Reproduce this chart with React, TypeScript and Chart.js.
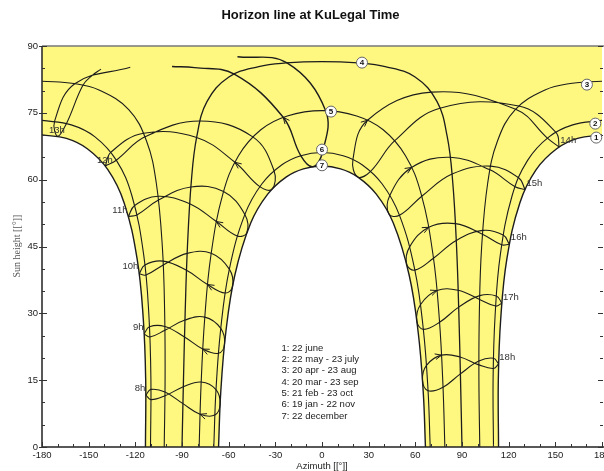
import React, { useEffect, useRef } from "react";
import { Chart, registerables } from "chart.js";

Chart.register(...registerables);

type P = [number, number]; // [azimuth °, sun height °]

// ---- Date curves (1: 22 june ... 7: 22 december) ----
const curve1Morning: P[] = [[-113.49, 0], [-113.35, 15.15], [-114.91, 28.83], [-118.85, 42.21], [-127.23, 54.83], [-137.67, 62.24], [-150.87, 66.93], [-164.31, 69.25], [-180, 70.06]];
const curve1Evening: P[] = [[113.49, 0], [113.35, 15.15], [114.91, 28.83], [118.85, 42.21], [127.23, 54.83], [137.67, 62.24], [150.87, 66.93], [164.31, 69.25], [180, 70.06]];
const curve2Morning: P[] = [[-110.24, 0], [-109.99, 15.28], [-111.24, 29.31], [-114.62, 43.12], [-122.16, 56.34], [-132.17, 64.33], [-145.93, 69.61], [-161.16, 72.3], [-180, 73.3]];
const curve2Evening: P[] = [[110.24, 0], [109.99, 15.28], [111.24, 29.31], [114.62, 43.12], [122.16, 56.34], [132.17, 64.33], [145.93, 69.61], [161.16, 72.3], [180, 73.3]];
const curve3Morning: P[] = [[-101.43, 0], [-100.87, 15.39], [-101.15, 30.09], [-102.6, 44.74], [-106.53, 59.25], [-112.81, 68.68], [-124.24, 75.73], [-143.35, 80.12], [-159.54, 81.57], [-180, 82.1]];
const curve3Evening: P[] = [[101.43, 0], [100.87, 15.39], [101.15, 30.09], [102.6, 44.74], [106.53, 59.25], [112.81, 68.68], [124.24, 75.73], [143.35, 80.12], [159.54, 81.57], [180, 82.1]];
const curve4: P[] = [[-90, 0], [-89.06, 14.97], [-87.98, 29.94], [-86.51, 44.9], [-83.96, 59.81], [-80.48, 69.7], [-73.97, 77.51], [-59.85, 83.05], [-40.64, 85.39], [-23.22, 86.19], [0, 86.5], [23.22, 86.19], [40.64, 85.39], [59.85, 83.05], [73.97, 77.51], [80.48, 69.7], [83.96, 59.81], [86.51, 44.9], [87.98, 29.94], [89.06, 14.97], [90, 0]];
const curve5: P[] = [[-78.98, 0], [-77.74, 14.0], [-75.46, 28.57], [-71.45, 42.93], [-63.72, 56.81], [-53.68, 65.38], [-39.33, 71.21], [-22.31, 74.3], [0, 75.5], [22.31, 74.3], [39.33, 71.21], [53.68, 65.38], [63.72, 56.81], [71.45, 42.93], [75.46, 28.57], [77.74, 14.0], [78.98, 0]];
const curve6: P[] = [[-69.56, 0], [-68.16, 12.76], [-65.11, 26.52], [-59.63, 39.81], [-49.7, 52.09], [-38.59, 59.08], [-25.76, 63.35], [-13.6, 65.39], [0, 66.1], [13.6, 65.39], [25.76, 63.35], [38.59, 59.08], [49.7, 52.09], [59.63, 39.81], [65.11, 26.52], [68.16, 12.76], [69.56, 0]];
const curve7: P[] = [[-66.51, 0], [-65.09, 12.28], [-61.85, 25.7], [-56.05, 38.55], [-45.83, 50.25], [-34.9, 56.75], [-22.89, 60.63], [-11.96, 62.44], [0, 63.06], [11.96, 62.44], [22.89, 60.63], [34.9, 56.75], [45.83, 50.25], [56.05, 38.55], [61.85, 25.7], [65.09, 12.28], [66.51, 0]];

// ---- Hour curves (legal time), dates: jun, jul, aug, sep, oct, nov, dec, jan, feb, mar, apr, may, jun ----
const h08: P[] = [[-113.22, 11.66], [-109.9, 10.63], [-100.93, 11.49], [-89.16, 13.52], [-77.67, 14.59], [-68.15, 12.88], [-65.51, 9.58], [-68.92, 7.16], [-78.42, 7.36], [-89.4, 9.73], [-100.91, 12.35], [-109.93, 12.93], [-113.22, 11.66]];
const h09: P[] = [[-114.34, 25.38], [-110.65, 24.69], [-100.98, 26.19], [-88.1, 28.49], [-75.34, 29.15], [-65.08, 26.63], [-62.66, 23.07], [-66.57, 21.03], [-76.65, 21.98], [-88.39, 24.7], [-101.02, 27.05], [-110.92, 26.98], [-114.34, 25.38]];
const h10: P[] = [[-117.55, 38.87], [-113.19, 38.6], [-102.06, 40.87], [-86.68, 43.45], [-71.24, 43.5], [-59.57, 39.92], [-57.48, 36.07], [-62.22, 34.55], [-73.57, 36.46], [-87.09, 39.66], [-102.17, 41.72], [-113.85, 40.84], [-117.55, 38.87]];
const h11: P[] = [[-124.48, 51.75], [-118.97, 52.08], [-105.08, 55.43], [-84.3, 58.37], [-63.27, 57.34], [-49.59, 52.18], [-48.36, 48.07], [-54.43, 47.34], [-67.93, 50.61], [-85.06, 54.6], [-105.37, 56.28], [-120.43, 54.21], [-124.48, 51.75]];
const h12: P[] = [[-139.33, 63.03], [-132.24, 64.37], [-113.81, 69.61], [-78.32, 73.16], [-44.49, 69.61], [-30.83, 62.01], [-32.15, 57.86], [-39.96, 58.43], [-55.98, 63.91], [-80.6, 69.46], [-114.74, 70.41], [-135.78, 66.13], [-139.33, 63.03]];
const h13a: P[] = [[-123.27, 85.24], [-158.92, 81.54], [-171.89, 73.13], [-169.9, 69.71], [-164.27, 72.6], [-153.71, 81.18], [-147.48, 83.47], [-142.08, 84.8]];
const h13b: P[] = [[-54.34, 87.6], [-22.52, 86.21], [2.35, 75.48], [0.29, 66.1], [-6.0, 62.9], [-13.66, 65.38], [-24.94, 74.0], [-56.4, 83.69], [-81.82, 85.14], [-96.4, 85.4]];
const h14: P[] = [[152.49, 67.3], [150.39, 70.63], [126.46, 76.52], [75.79, 76.03], [46.77, 68.75], [31.24, 61.87], [22.93, 60.62], [19.88, 64.53], [29.27, 73.34], [70.44, 79.64], [124.46, 75.82], [144.87, 69.33], [152.49, 67.3]];
const h15: P[] = [[130.57, 57.78], [126.38, 60.42], [108.45, 63.04], [83.6, 61.25], [64.15, 56.27], [49.81, 51.99], [43.0, 52.32], [43.58, 56.47], [57.58, 62.74], [82.46, 65.03], [107.97, 62.2], [124.14, 58.43], [130.57, 57.78]];
const h16: P[] = [[120.43, 45.51], [116.47, 47.57], [103.3, 48.61], [86.33, 46.34], [71.67, 42.37], [59.69, 39.7], [54.46, 40.99], [56.35, 44.91], [68.63, 49.31], [85.8, 50.13], [103.13, 47.77], [115.5, 45.38], [120.43, 45.51]];
const h17: P[] = [[115.64, 32.26], [112.07, 33.9], [101.39, 33.98], [87.86, 31.39], [75.58, 27.99], [65.15, 26.41], [60.95, 28.3], [63.28, 31.94], [73.93, 35.12], [87.53, 35.17], [101.33, 33.12], [111.63, 31.63], [115.64, 32.26]];
const h18: P[] = [[113.58, 18.63], [110.23, 19.92], [100.86, 19.28], [88.97, 16.42], [77.81, 13.42], [68.18, 12.64], [64.6, 14.97], [67.17, 18.32], [76.86, 20.62], [88.71, 20.21], [100.85, 18.43], [110.09, 17.62], [113.58, 18.63]];

// ---- Texts ----
const hourLabelText = ["8h", "9h", "10h", "11h", "12h", "13h", "14h", "15h", "16h", "17h", "18h"];
const hourLabelAz = [-117.0, -118.1, -123.2, -129.9, -139.6, -170.4, 158.3, 136.5, 126.5, 121.4, 119.1];
const hourLabelAlt = [13.17, 26.93, 40.56, 53.12, 64.35, 71.08, 68.83, 59.18, 47.06, 33.67, 20.13];

const curveLabelNum = ["1", "2", "3", "4", "5", "6", "7"];
const curveLabelAz = [176.3, 175.7, 170.3, 25.7, 5.8, 0, 0];
const curveLabelAlt = [69.44, 72.58, 81.33, 86.27, 75.28, 66.75, 63.22];

const legendLines = ["1: 22 june", "2: 22 may - 23 july", "3: 20 apr - 23 aug", "4: 20 mar - 23 sep", "5: 21 feb - 23 oct", "6: 19 jan - 22 nov", "7: 22 december"];

const xTickValues = [-180, -150, -120, -90, -60, -30, 0, 30, 60, 90, 120, 150, 180];
const yTickValues = [0, 15, 30, 45, 60, 75, 90];

const TITLE = "Horizon line at KuLegal Time";
const X_TITLE = "Azimuth [[°]]";
const Y_TITLE = "Sun height [[°]]";

const YELLOW = "#fff880";
const LINE = "#1c1c1c";
const SANS = '"Liberation Sans", Arial, sans-serif';

const arrowSpecs: [P[], number][] = [[h08, 8], [h09, 8], [h10, 8], [h11, 8], [h12, 8], [h13b, 6], [h14, 8], [h15, 8], [h16, 8], [h17, 8], [h18, 8]];

const decorPlugin = {
  id: "decor",
  beforeDraw(chart: any) {
    const { ctx, chartArea: a } = chart;
    ctx.save();
    ctx.fillStyle = "#ffffff";
    ctx.fillRect(0, 0, chart.width, chart.height);
    ctx.fillStyle = YELLOW;
    ctx.fillRect(a.left, a.top, a.right - a.left, a.bottom - a.top);
    ctx.restore();
  },
  afterDatasetsDraw(chart: any) {
    const { ctx, chartArea: a } = chart;
    const xs = chart.scales.x;
    const ys = chart.scales.y;
    const px = (v: number) => xs.getPixelForValue(v);
    const py = (v: number) => ys.getPixelForValue(v);
    ctx.save();

    // arrows on hour curves
    ctx.strokeStyle = LINE;
    ctx.lineWidth = 1;
    for (const [arr, i] of arrowSpecs) {
      const tx = px(arr[i][0]);
      const ty = py(arr[i][1]);
      let dx = px(arr[i + 1][0]) - px(arr[i - 1][0]);
      let dy = py(arr[i + 1][1]) - py(arr[i - 1][1]);
      const L = Math.hypot(dx, dy) || 1;
      dx /= L;
      dy /= L;
      const len = 7;
      ctx.beginPath();
      for (const s of [-1, 1]) {
        const th = Math.PI + s * 0.42;
        const ex = tx + len * (dx * Math.cos(th) - dy * Math.sin(th));
        const ey = ty + len * (dx * Math.sin(th) + dy * Math.cos(th));
        ctx.moveTo(tx, ty);
        ctx.lineTo(ex, ey);
      }
      ctx.stroke();
    }

    // frame
    ctx.strokeStyle = "#777";
    ctx.lineWidth = 1.5;
    ctx.beginPath();
    ctx.moveTo(a.left, a.top);
    ctx.lineTo(a.right + 2, a.top);
    ctx.stroke();
    ctx.strokeStyle = "#222";
    ctx.lineWidth = 1.5;
    ctx.beginPath();
    ctx.moveTo(a.left, a.top);
    ctx.lineTo(a.left, a.bottom);
    ctx.lineTo(a.right + 2, a.bottom);
    ctx.stroke();

    // ticks
    ctx.lineWidth = 1;
    ctx.strokeStyle = "#333";
    ctx.beginPath();
    for (let v = -180; v <= 180; v += 10) {
      const x = Math.round(px(v)) + 0.5;
      const major = v % 30 === 0;
      ctx.moveTo(x, a.bottom);
      ctx.lineTo(x, a.bottom - (major ? 5 : 3));
    }
    for (let v = 0; v <= 90; v += 5) {
      const y = Math.round(py(v)) + 0.5;
      const major = v % 15 === 0;
      ctx.moveTo(major ? a.left - 3 : a.left, y);
      ctx.lineTo(a.left + (major ? 5 : 3), y);
      ctx.moveTo(a.right + 1, y);
      ctx.lineTo(a.right + 1 - (major ? 5 : 3), y);
    }
    ctx.stroke();

    // tick labels
    ctx.fillStyle = "#222";
    ctx.font = `9.5px ${SANS}`;
    ctx.textAlign = "center";
    ctx.textBaseline = "middle";
    for (const v of xTickValues) ctx.fillText(String(v), px(v), a.bottom + 8.5);
    ctx.textAlign = "right";
    for (const v of yTickValues) ctx.fillText(String(v), a.left - 4, py(v));

    // axis titles
    ctx.textAlign = "center";
    ctx.fillText(X_TITLE, px(0), a.bottom + 19.5);
    ctx.save();
    ctx.translate(17, 246);
    ctx.rotate(-Math.PI / 2);
    ctx.fillStyle = "#555";
    ctx.font = '10px "Liberation Serif", "Times New Roman", serif';
    ctx.fillText(Y_TITLE, 0, 0);
    ctx.restore();

    // title
    ctx.fillStyle = "#111";
    ctx.font = `bold 13px ${SANS}`;
    ctx.textBaseline = "alphabetic";
    ctx.fillText(TITLE, 310.5, 18.5);

    // hour labels
    ctx.fillStyle = "#333";
    ctx.font = `9.5px ${SANS}`;
    ctx.textBaseline = "middle";
    ctx.textAlign = "center";
    hourLabelText.forEach((t, i) => ctx.fillText(t, px(hourLabelAz[i]), py(hourLabelAlt[i])));

    // legend
    ctx.fillStyle = "#222";
    ctx.textAlign = "left";
    legendLines.forEach((t, i) => ctx.fillText(t, 281.5, 348.3 + i * 11.28));

    // curve number markers
    curveLabelNum.forEach((t, i) => {
      const x = px(curveLabelAz[i]);
      const y = py(curveLabelAlt[i]);
      ctx.beginPath();
      ctx.arc(x, y, 5.5, 0, Math.PI * 2);
      ctx.fillStyle = "#ffffff";
      ctx.fill();
      ctx.strokeStyle = "#666";
      ctx.lineWidth = 1;
      ctx.stroke();
      ctx.fillStyle = "#111";
      ctx.font = `bold 8px ${SANS}`;
      ctx.textAlign = "center";
      ctx.textBaseline = "middle";
      ctx.fillText(t, x, y + 0.5);
    });

    ctx.restore();
  },
};

function lineSet(arr: P[], opts: any = {}) {
  return {
    data: arr.map(([x, y]) => ({ x, y })),
    showLine: true,
    borderColor: LINE,
    borderWidth: 1.1,
    pointRadius: 0,
    pointHoverRadius: 0,
    tension: 0.4,
    fill: false,
    ...opts,
  };
}

export default function App() {
  const ref = useRef<HTMLCanvasElement | null>(null);
  useEffect(() => {
    if (!ref.current) return;
    const white = { fill: "origin", backgroundColor: "#ffffff", borderWidth: 1.4 };
    const datasets = [
      lineSet(curve1Morning, white),
      lineSet(curve1Evening, white),
      lineSet(curve7, white),
      lineSet(curve2Morning),
      lineSet(curve2Evening),
      lineSet(curve3Morning),
      lineSet(curve3Evening),
      lineSet(curve4, { borderWidth: 1.3 }),
      lineSet(curve5),
      lineSet(curve6),
      lineSet(h08),
      lineSet(h09),
      lineSet(h10),
      lineSet(h11),
      lineSet(h12),
      lineSet(h13a),
      lineSet(h13b, { borderWidth: 1.4 }),
      lineSet(h14),
      lineSet(h15),
      lineSet(h16),
      lineSet(h17),
      lineSet(h18),
    ];
    const chart = new Chart(ref.current, {
      type: "scatter",
      data: { datasets } as any,
      options: {
        animation: false,
        responsive: false,
        devicePixelRatio: 1,
        events: [],
        layout: { padding: { left: 42, right: 2, top: 46, bottom: 24 } },
        scales: {
          x: { type: "linear", min: -180, max: 180, display: false },
          y: { type: "linear", min: 0, max: 90, display: false },
        },
        plugins: {
          legend: { display: false },
          title: { display: false },
          tooltip: { enabled: false },
          filler: { drawTime: "beforeDatasetsDraw" },
        },
      } as any,
      plugins: [decorPlugin],
    });
    return () => chart.destroy();
  }, []);

  return (
    <div style={{ position: "absolute", left: 0, top: 0, width: 604, height: 471, overflow: "hidden", background: "#fff" }}>
      <canvas ref={ref} width={604} height={471} style={{ display: "block", width: 604, height: 471 }} />
    </div>
  );
}
